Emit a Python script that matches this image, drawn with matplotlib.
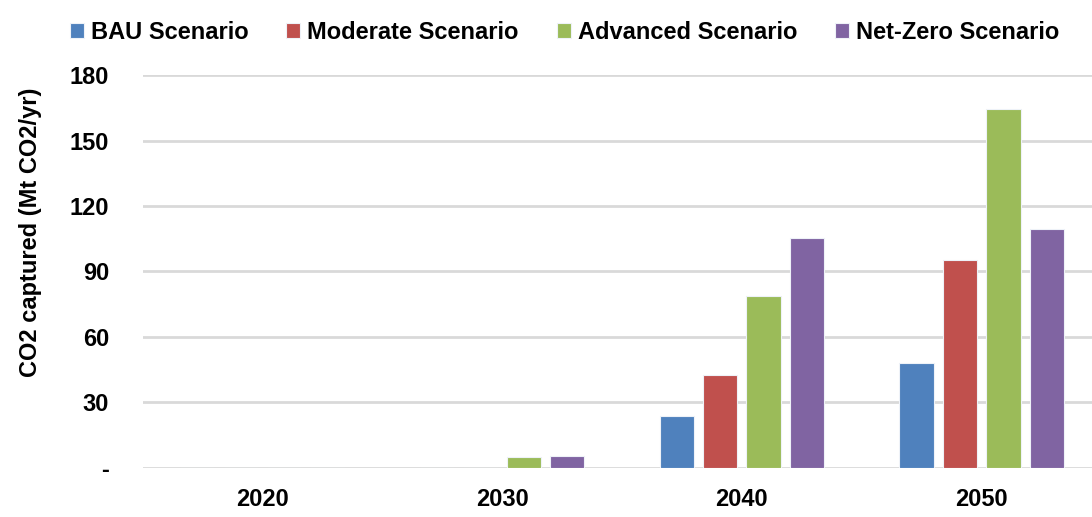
import numpy as np
import matplotlib.pyplot as plt
from matplotlib.ticker import FixedLocator, FuncFormatter

# CO2 captured per scenario (Mt CO2/yr)
years = ['2020', '2030', '2040', '2050']
bau = [0, 0, 23.5, 48]
moderate = [0, 0, 42.5, 95]
advanced = [0, 4.8, 78.8, 164.5]
net_zero = [0, 5.4, 105.5, 109.5]

scenarios = ['BAU Scenario', 'Moderate Scenario', 'Advanced Scenario', 'Net-Zero Scenario']
colors = ['#4F81BD', '#C0504D', '#9BBB59', '#8064A2']

plt.rcParams['font.family'] = ['Liberation Sans', 'DejaVu Sans']
plt.rcParams['font.weight'] = 'bold'

fig = plt.figure(figsize=(10.92, 5.17), dpi=100)
ax = fig.add_axes([0.1305, 0.0957, 0.8695, 0.759])

x = np.arange(len(years))
step = 0.181
width = 0.143
for i, (vals, name, c) in enumerate(zip([bau, moderate, advanced, net_zero], scenarios, colors)):
    ax.bar(x + (i - 1.5) * step, vals, width, color=c, edgecolor='#EEF2F8',
           linewidth=0.8, label=name, zorder=3)

ax.set_xlim(-0.5, 3.46)
ax.set_ylim(0, 180)
ax.yaxis.set_major_locator(FixedLocator(np.arange(0, 181, 30)))
ax.yaxis.set_major_formatter(FuncFormatter(lambda v, p: '-' if v == 0 else '%d' % v))
ax.grid(axis='y', color='#D9D9D9', linewidth=2, zorder=0)
ax.set_xticks(x)
ax.set_xticklabels(years)
ax.tick_params(axis='both', length=0, labelsize=17)
ax.tick_params(axis='x', pad=15)
ax.tick_params(axis='y', pad=24)
for s in ax.spines.values():
    s.set_visible(False)

ax.set_ylabel('CO2 captured (Mt CO2/yr)', fontsize=17, fontweight='bold')
ax.yaxis.set_label_coords(-0.106, 0.6)

fig.legend(loc='upper center', bbox_to_anchor=(0.517, 1.0), ncol=4, frameon=False,
           fontsize=17, handlelength=0.6, handleheight=0.6, handletextpad=0.3,
           columnspacing=1.6)

fig.savefig('out.png', dpi=100)
